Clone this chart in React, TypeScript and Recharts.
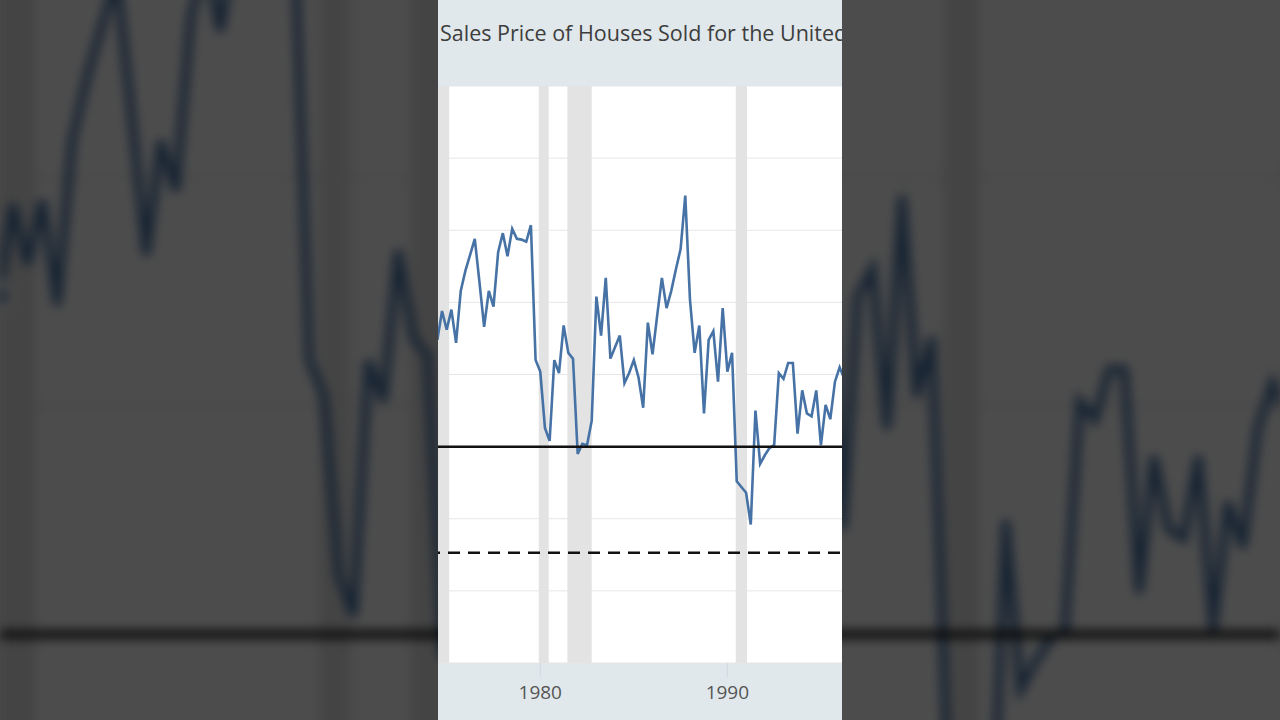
import React from 'react';
import { LineChart, Line, XAxis, YAxis, CartesianGrid, ReferenceLine, ReferenceArea } from 'recharts';

// percent change, quarterly, starting 1974 Q1
const startYear = 1974;
const pctChange = [
  8.0, 8.75, 7.4, 9.4,
  8.1, 9.5, 7.2, 10.8,
  12.2, 13.3, 14.4, 11.4,
  8.3, 10.8, 9.7, 13.5,
  14.8, 13.2, 15.1, 14.4,
  14.35, 14.2, 15.35, 6.0,
  5.2, 1.3, 0.4, 6.0,
  5.1, 8.4, 6.5, 6.1,
  -0.5, 0.2, 0.1, 1.8,
  10.4, 7.7, 11.7, 6.1,
  6.9, 7.7, 4.4, 5.1,
  6.0, 4.8, 2.7, 8.6,
  6.4, 9.1, 11.7, 9.6,
  10.8, 12.3, 13.7, 17.4,
  10.2, 6.5, 8.4, 2.3,
  7.4, 8.0, 4.5, 9.6,
  5.2, 6.5, -2.4, -2.8,
  -3.2, -5.4, 2.5, -1.2,
  -0.6, -0.1, 0.1, 5.1,
  4.7, 5.8, 5.8, 0.9,
  3.9, 2.3, 2.1, 3.9,
  0.1, 2.9, 1.9, 4.5,
  5.5, 4.7,
];

const recessions: [number, number][] = [
  [1973.9, 1975.13],
  [1979.92, 1980.45],
  [1981.45, 1982.75],
  [1990.45, 1991.05],
];

const yearTicks = [1980, 1990];
const gridTicks = [-15, -10, -5, 0, 5, 10, 15, 20, 25];
const solidLevel = 0;
const dashedLevel = -7.36;

const data = pctChange.map((v, i) => ({ date: startYear + i / 4, value: v }));

const font = "'Open Sans', sans-serif";

// backdrop = the blurred, enlarged copy behind the clip; its texts fall off-screen anyway
const Panel: React.FC<{ backdrop?: boolean }> = ({ backdrop }) => (
  <div style={{ position: 'relative', width: 404, height: 720, background: '#e1e8eb', overflow: 'hidden', fontFamily: font }}>
    {!backdrop && (
      <div style={{ position: 'absolute', left: 2, top: 18, fontSize: 21.5, color: '#3d3d3d', whiteSpace: 'nowrap', lineHeight: 'normal' }}>
        Sales Price of Houses Sold for the United States
      </div>
    )}
    <div style={{ position: 'absolute', left: -10, top: 86 }}>
      <LineChart width={421} height={634} data={data} margin={{ top: 0, right: 0, left: 0, bottom: 0 }}>
        <CartesianGrid vertical={false} fill="#ffffff" stroke="#e6e6e6" horizontalValues={gridTicks} />
        {recessions.map(([a, b]) => (
          <ReferenceArea key={a} x1={a} x2={b} fill="#e3e3e3" fillOpacity={1} stroke="none" ifOverflow="hidden" />
        ))}
        <XAxis
          dataKey="date"
          type="number"
          domain={[1974, 1996.5]}
          ticks={yearTicks}
          allowDataOverflow
          height={57}
          axisLine={false}
          tickSize={14}
          tickMargin={9}
          tickLine={{ stroke: '#cfd8dc' }}
          tick={backdrop ? false : { fill: '#555', fontSize: 19, fontFamily: font }}
        />
        <YAxis hide domain={[-15, 25]} ticks={gridTicks} />
        <Line type="linear" dataKey="value" stroke="#4672a6" strokeWidth={2.6} dot={false} isAnimationActive={false} />
        <ReferenceLine y={solidLevel} stroke="#111" strokeWidth={2.5} />
        <ReferenceLine y={dashedLevel} stroke="#111" strokeWidth={2.5} strokeDasharray="12 8" />
      </LineChart>
    </div>
  </div>
);

export default function App() {
  return (
    <div style={{ position: 'absolute', left: 0, top: 0, width: 1280, height: 720, overflow: 'hidden', background: '#4a4a4a' }}>
      <div
        style={{
          position: 'absolute', left: 438, top: 0, width: 404, height: 720,
          transform: 'scale(3.168)', transformOrigin: '50% 50%',
          filter: 'blur(1.6px) brightness(0.3)',
        }}
      >
        <Panel backdrop />
      </div>
      <div style={{ position: 'absolute', left: 438, top: 0 }}>
        <Panel />
      </div>
    </div>
  );
}
